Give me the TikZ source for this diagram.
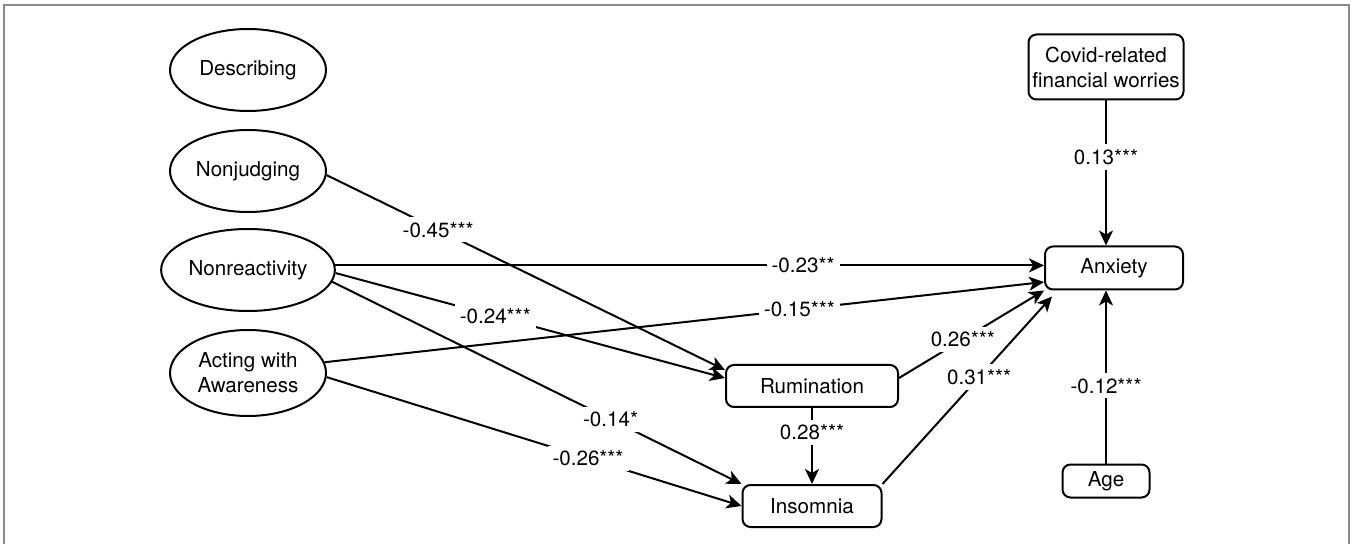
\documentclass[tikz,border=0pt]{standalone}
\usepackage{fontspec}
\setmainfont{TeX Gyre Heros}
\usetikzlibrary{arrows.meta,shapes.geometric}
\definecolor{framegray}{RGB}{138,138,138}

\begin{document}
\begin{tikzpicture}[x=0.5pt, y=-0.5pt, font=\fontsize{10.3}{12.5}\selectfont,
    facet/.style={draw, line width=1pt, ellipse, minimum width=78pt, minimum height=41pt, inner sep=1pt, align=center},
    var/.style={draw, line width=1pt, rounded corners=4pt, align=center, inner sep=1pt},
    path/.style={-{Stealth[length=7.5pt, width=7pt, inset=2pt]}, line width=1pt},
    coef/.style={fill=white, inner sep=2.5pt}]
  \useasboundingbox (0,0) rectangle (1352,544);
  \draw[framegray, line width=1pt] (4,544) -- (4,5) -- (1349,5) -- (1349,544);

  \node[facet] (describing) at (248,70) {Describing};
  \node[facet] (nonjudging) at (248,171) {Nonjudging};
  \node[facet] (nonreact) at (248,270) {Nonreactivity};
  \node[facet, minimum height=43pt] (acting) at (248,373) {Acting with\\Awareness};
  \node[var, minimum width=86pt, minimum height=21pt] (rum) at (812,386) {Rumination};
  \node[var, minimum width=69.5pt, minimum height=21pt] (ins) at (812,506) {Insomnia};
  \node[var, minimum width=69pt, minimum height=21.5pt] (anx) at (1114,268) {Anxiety};
  \node[var, minimum width=77.5pt, minimum height=32.5pt] (covid) at (1106,67) {Covid-related\\financial worries};
  \node[var, minimum width=43.5pt, minimum height=16.5pt] (age) at (1106,481) {Age};

  \draw[path] (nonjudging.-3) -- node[coef, pos=0.28] {-0.45***} ([yshift=8pt]rum.west);
  \draw[path] (nonreact.3) -- node[coef, pos=0.66] {-0.23**} (nonreact.3 -| anx.west);
  \draw[path] (acting.8) -- node[coef, pos=0.66] {-0.15***} ([yshift=-7pt]anx.west);
  \draw[path] (nonreact.-2) -- node[coef, pos=0.41] {-0.24***} ([yshift=4pt]rum.west);
  \draw[path] (nonreact.-8) -- node[coef, pos=0.68] {-0.14*} (ins.north west);
  \draw[path] (acting.-3) -- node[coef, pos=0.63] {-0.26***} (ins.west);
  \draw[path] ([yshift=4pt]rum.east) -- node[coef, pos=0.44] {0.26***} (anx.south west);
  \draw[path] (ins.north east) -- node[coef, pos=0.57] {0.31***} ([xshift=4pt,yshift=-3pt]anx.south west);
  \draw[path] (rum) -- node[coef, pos=0.32] {0.28***} (ins);
  \draw[path] (covid) -- node[coef, pos=0.39] {0.13***} (covid |- anx.north);
  \draw[path] (age) -- node[coef, pos=0.45] {-0.12***} (age |- anx.south);
\end{tikzpicture}
\end{document}
